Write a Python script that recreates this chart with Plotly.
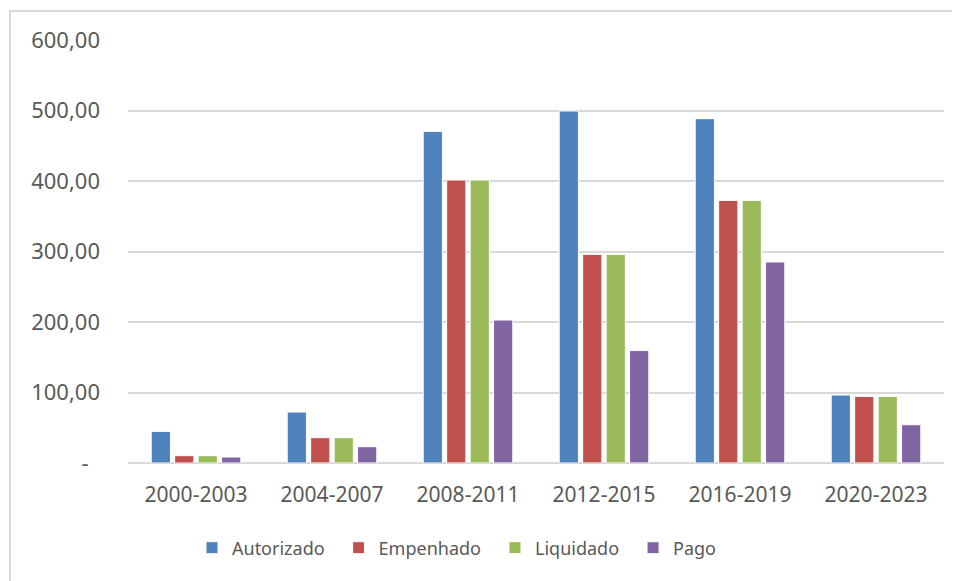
import plotly.graph_objects as go

categories = ["2000-2003", "2004-2007", "2008-2011", "2012-2015", "2016-2019", "2020-2023"]
autorizado = [44.8, 72.3, 470.4, 499.3, 488.4, 96.4]
empenhado = [10.4, 35.9, 401.4, 295.9, 372.5, 94.5]
liquidado = [10.4, 35.9, 401.4, 295.9, 372.5, 94.5]
pago = [8.5, 23.1, 202.8, 159.5, 285.1, 54.3]

series_names = ["Autorizado", "Empenhado", "Liquidado", "Pago"]
series_values = [autorizado, empenhado, liquidado, pago]
colors = ["#4f81bd", "#c0504d", "#9bbb59", "#8064a2"]

y_tickvals = [0, 100, 200, 300, 400, 500, 600]
y_ticktext = ["-\u00a0\u00a0", "100,00", "200,00", "300,00", "400,00", "500,00", "600,00"]

FONT = "Noto Sans"
TXT = "#595959"
PAD = "\u2002"

fig = go.Figure()
for name, vals, col in zip(series_names, series_values, colors):
    fig.add_trace(go.Bar(
        x=categories, y=vals, name=name + PAD,
        marker=dict(color=col, line=dict(color="white", width=1)),
    ))

OFF = 8  # page body margin
W, H = 960 - OFF, 581 - OFF
# target positions in window pixels
PL, PR, PT, PB = 128, 944, 40, 463
L, R, T, B = PL - OFF, 960 - PR, PT - OFF, 581 - PB
pw, ph = PR - PL, PB - PT

fig.update_layout(
    width=W, height=H,
    margin=dict(l=L, r=R, t=T, b=B),
    paper_bgcolor="white", plot_bgcolor="white",
    barmode="group", bargap=0.31, bargroupgap=0.18,
    font=dict(family=FONT, size=20, color=TXT),
    showlegend=True,
    legend=dict(orientation="h", x=(192 - PL) / pw, xanchor="left",
                y=(PB - 548) / ph, yanchor="middle",
                font=dict(family=FONT, size=18, color=TXT),
                bgcolor="rgba(0,0,0,0)"),
    xaxis=dict(showgrid=False, showline=False, ticks="", zeroline=False,
               tickfont=dict(family=FONT, size=21, color=TXT),
               ticklabelstandoff=17),
    yaxis=dict(range=[0, 600], tickvals=y_tickvals, ticktext=y_ticktext,
               showgrid=True, gridcolor="#d9d9d9", gridwidth=2,
               zeroline=True, zerolinecolor="#d9d9d9", zerolinewidth=2,
               showline=False, ticks="",
               tickfont=dict(family=FONT, size=22, color=TXT),
               ticklabelstandoff=27),
    shapes=[dict(type="rect", xref="paper", yref="paper",
                 x0=(10 - PL) / pw, x1=(970 - PL) / pw,
                 y0=(PB - 590) / ph, y1=(PB - 11) / ph,
                 line=dict(color="#d9d9d9", width=2), fillcolor="rgba(0,0,0,0)",
                 layer="below")],
)

fig.write_html("out.html")
